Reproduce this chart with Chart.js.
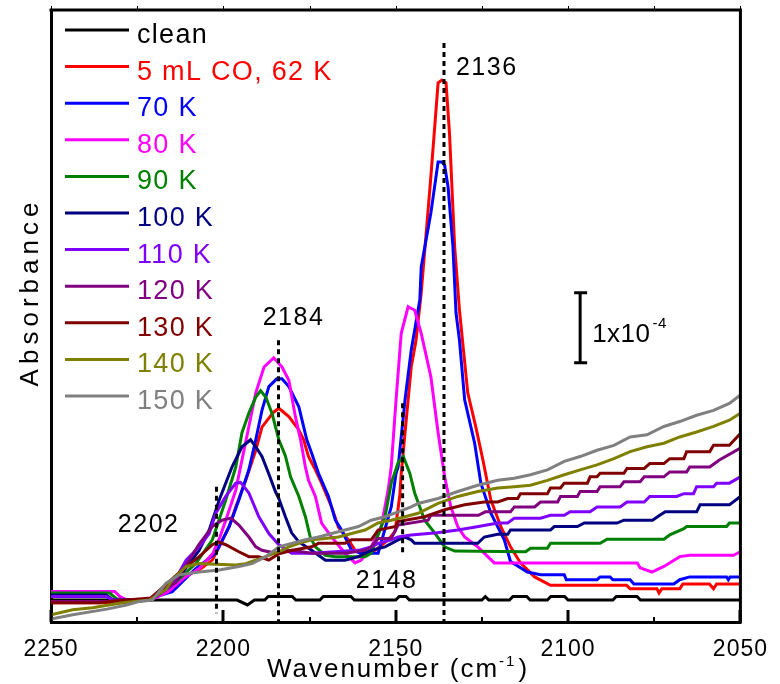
<!DOCTYPE html>
<html>
<head>
<meta charset="utf-8">
<script src="https://cdn.jsdelivr.net/npm/chart.js@4.4.1/dist/chart.umd.min.js"></script>
<style>
    html, body { margin: 0; padding: 0; background: #fff; }
</style>
</head>
<body>
<canvas id="chartIR" width="780" height="684"></canvas>
<script>
// series: [wavenumber (cm-1), absorbance (x 1e-4)]
var seriesNames = ["clean", "5 mL CO, 62 K", "70 K", "80 K", "90 K", "100 K", "110 K", "120 K", "130 K", "140 K", "150 K"];
var seriesColors = ["#000000", "#ff0000", "#0000ff", "#ff00ff", "#008000", "#000080", "#8000ff", "#800080", "#800000", "#808000", "#808080"];

var clean = [[2250,0],[2196,0],[2193,-0.07],[2191,0],[2188,0],[2187,0.05],[2180,0.05],[2179,0],[2172,0],[2171,0.05],[2163,0.05],[2162,0],[2150,0],[2149,0.05],[2147,0.05],[2146,0],[2125,0],[2124,0.05],[2123,0],[2117,0],[2116,0.05],[2112,0.05],[2111,0],[2106,0],[2105,0.05],[2101,0.05],[2100,0],[2087,0],[2086,0.05],[2080,0.05],[2079,0],[2050,0]];

var co62K = [[2250,-0.04],[2230,-0.04],[2224,-0.01],[2221,0.03],[2214,0.29],[2207,0.43],[2203.2,0.57],[2200.7,0.81],[2198.3,1.05],[2196.4,1.33],[2193.5,1.71],[2190.6,2.14],[2188.8,2.47],[2185.5,2.68],[2183.9,2.74],[2181,2.62],[2178.1,2.43],[2176.7,2.29],[2175.3,2.05],[2173.3,1.86],[2171.5,1.67],[2168.6,1.33],[2166.6,1.04],[2163.7,0.86],[2161.8,0.71],[2160,0.67],[2156,0.71],[2152.2,0.86],[2150.2,0.98],[2149.6,1.2],[2148.8,1.5],[2148.4,1.81],[2147.3,2.39],[2145.5,3.33],[2144.1,3.71],[2142.6,4.39],[2139.8,6.05],[2137.7,7.39],[2136.6,7.43],[2135.4,7.39],[2134.4,6.67],[2132.9,5.05],[2131.5,4.14],[2129.1,2.96],[2126.8,2.48],[2124.7,2.0],[2122.4,1.43],[2119.5,1.05],[2116.7,0.76],[2113.8,0.53],[2109.7,0.33],[2105.1,0.21],[2083,0.21],[2082,0.16],[2074.2,0.16],[2073.6,0.10],[2072.8,0.16],[2067.6,0.16],[2066.7,0.23],[2059,0.23],[2057.8,0.16],[2056.9,0.23],[2050,0.23]];

var k70 = [[2250,0.12],[2236,0.12],[2234,0.05],[2232,0],[2221,0],[2219.5,0.05],[2214.8,0.12],[2208,0.45],[2202.2,0.67],[2198.3,1.05],[2195.5,1.43],[2192.6,1.86],[2190.6,2.29],[2188.8,2.71],[2186.8,3.05],[2184.5,3.16],[2183,3.16],[2181,3.05],[2178.1,2.76],[2175.8,2.29],[2174.4,2.10],[2172.4,1.81],[2169.5,1.48],[2167.5,1.14],[2165.7,1.00],[2162.8,0.71],[2160,0.67],[2155.1,0.67],[2151.3,1.33],[2149.9,1.81],[2149.3,1.90],[2147.3,2.86],[2145.5,3.57],[2143,4.29],[2142.6,4.76],[2139.8,5.53],[2137.7,6.26],[2136.6,6.26],[2135.8,6.21],[2134.8,5.90],[2133.4,5.05],[2132.5,4.10],[2131.5,3.71],[2130,2.86],[2127.1,2.24],[2125.3,1.67],[2122.4,1.24],[2118.5,0.86],[2116.7,0.55],[2111.8,0.40],[2108,0.36],[2101.1,0.36],[2100.5,0.29],[2091.6,0.29],[2090.7,0.33],[2087.8,0.33],[2087,0.29],[2082,0.29],[2080.9,0.23],[2069.3,0.23],[2067.6,0.29],[2064.7,0.33],[2054,0.33],[2053.5,0.29],[2053,0.33],[2050,0.33]];

var k80 = [[2250,0.12],[2231.5,0.12],[2230,0.05],[2228,0],[2221,0],[2216,0.12],[2211,0.33],[2207,0.45],[2203,0.67],[2201,0.90],[2199.3,1.14],[2196.4,1.57],[2194.6,2.0],[2192.6,2.48],[2190.6,2.96],[2188.2,3.33],[2185.4,3.46],[2183,3.33],[2181,3.14],[2179.1,2.62],[2177.6,2.29],[2176.2,1.90],[2175.3,1.71],[2173.3,1.48],[2171.5,1.10],[2168.6,0.90],[2164.7,0.67],[2161.8,0.53],[2160,0.57],[2157.1,0.76],[2154.2,1.05],[2152.2,1.57],[2151.3,1.90],[2149.9,2.86],[2148.4,3.81],[2146.4,4.19],[2144.5,4.14],[2142.6,3.81],[2139.8,3.19],[2137.7,2.39],[2135.8,1.76],[2134,1.33],[2132,1.05],[2130,0.90],[2126.2,0.76],[2121.4,0.53],[2079.9,0.53],[2079.1,0.46],[2075.7,0.40],[2072.2,0.48],[2067.6,0.62],[2064.7,0.64],[2052,0.64],[2050,0.69]];

var k90 = [[2250,0.10],[2233,0.10],[2231,0.02],[2229,0],[2221,0],[2214,0.25],[2208,0.52],[2203.2,0.86],[2199.3,1.43],[2196.4,1.90],[2194.6,2.39],[2192.6,2.67],[2190.6,2.90],[2189.2,2.99],[2187.7,2.90],[2185.9,2.67],[2183.9,2.29],[2182,2.06],[2180.5,1.76],[2178.1,1.48],[2176.2,1.19],[2174.8,0.90],[2173.3,0.76],[2170.4,0.64],[2167.5,0.62],[2158.9,0.62],[2157.1,0.67],[2153.1,1.19],[2151.3,1.67],[2149.3,1.96],[2147.8,2.05],[2145.9,1.81],[2144.5,1.53],[2141.6,1.14],[2138.7,0.96],[2135.8,0.76],[2132.9,0.70],[2112.3,0.69],[2110.9,0.74],[2106,0.74],[2105.1,0.81],[2090.7,0.81],[2088.7,0.87],[2072.2,0.87],[2070.5,0.93],[2066.4,1.02],[2065.6,1.05],[2054,1.05],[2053.2,1.10],[2050,1.10]];

var k100 = [[2250,0.07],[2234,0.07],[2232,0],[2221,0],[2214,0.25],[2207,0.71],[2204.1,1.00],[2201.2,1.43],[2197.5,1.90],[2194.6,2.19],[2192.1,2.29],[2190.6,2.19],[2188.8,2.05],[2186.8,1.80],[2184.9,1.55],[2183.9,1.45],[2182,1.19],[2180.2,0.96],[2178.1,0.83],[2174.4,0.71],[2170.4,0.57],[2164.7,0.57],[2160.8,0.62],[2158.9,0.67],[2157.1,0.71],[2153.1,0.76],[2149.3,0.86],[2147.3,0.90],[2145.5,0.86],[2144.5,0.81],[2126.2,0.81],[2124.3,0.90],[2120.4,0.94],[2117.5,0.94],[2116.7,1.00],[2105.1,1.00],[2104,1.05],[2097.3,1.05],[2095.3,1.10],[2085.8,1.10],[2083.8,1.14],[2075.5,1.14],[2073.4,1.21],[2071.8,1.26],[2062.7,1.26],[2061.7,1.36],[2053.2,1.36],[2050,1.48]];

var k110 = [[2250,0.05],[2234,0.05],[2232,0],[2221,0],[2215,0.2],[2210.8,0.57],[2207,0.76],[2204.1,0.95],[2202.2,1.24],[2199.3,1.48],[2196.4,1.67],[2195,1.68],[2192.6,1.53],[2189.7,1.19],[2186.8,0.95],[2183.9,0.79],[2180.2,0.67],[2174.4,0.67],[2160.8,0.71],[2157.1,0.76],[2155.1,0.81],[2151.3,0.86],[2149.3,0.90],[2145.5,0.93],[2138,0.96],[2132,1.0],[2126,1.05],[2120.4,1.10],[2117.5,1.10],[2115.6,1.17],[2108,1.17],[2105.1,1.21],[2101.1,1.21],[2099.4,1.26],[2093.6,1.26],[2091.6,1.33],[2084.9,1.33],[2082.9,1.40],[2077.9,1.40],[2076.3,1.48],[2068.5,1.48],[2066.4,1.52],[2063.6,1.52],[2062.7,1.62],[2057.8,1.62],[2056.9,1.67],[2053.2,1.67],[2050,1.76]];

var k120 = [[2250,-0.02],[2234,-0.02],[2230,0],[2221,0],[2214,0.25],[2207,0.80],[2203.2,1.05],[2200.4,1.14],[2197.8,1.17],[2195.5,1.07],[2192.6,0.90],[2190.6,0.76],[2188.8,0.71],[2184.9,0.67],[2180.2,0.71],[2174.4,0.67],[2164.7,0.67],[2159,0.71],[2157.1,0.76],[2155.1,0.88],[2151.3,0.88],[2149.3,1.07],[2140.6,1.14],[2139.8,1.21],[2126,1.21],[2124,1.26],[2116.7,1.26],[2115.6,1.33],[2109.7,1.33],[2108,1.40],[2103,1.40],[2102.2,1.48],[2097.3,1.48],[2096.5,1.55],[2091.6,1.55],[2090.7,1.62],[2084.9,1.62],[2083.8,1.69],[2079.1,1.69],[2077.9,1.76],[2072.2,1.76],[2070.5,1.83],[2065.6,1.83],[2064.7,1.90],[2058.9,1.90],[2056.1,2.0],[2050,2.17]];

var k130 = [[2250,-0.04],[2236,-0.04],[2228,0],[2221,0.03],[2211.9,0.43],[2207,0.62],[2203.2,0.79],[2201.5,0.83],[2199.3,0.79],[2195.5,0.69],[2192.6,0.62],[2189.7,0.62],[2186.8,0.57],[2183.9,0.66],[2180,0.71],[2174.4,0.76],[2172.4,0.81],[2164.7,0.81],[2162.8,0.86],[2157.1,0.86],[2155.1,1.00],[2150,1.05],[2149.3,1.12],[2141.6,1.19],[2135.8,1.29],[2130,1.36],[2124.3,1.40],[2120.4,1.40],[2117.5,1.45],[2114.6,1.45],[2113.8,1.52],[2106,1.52],[2105.1,1.60],[2102.2,1.60],[2101.1,1.67],[2094.4,1.67],[2093.6,1.76],[2091.6,1.76],[2090.7,1.81],[2083.8,1.81],[2082.9,1.88],[2077.9,1.88],[2076.3,1.95],[2072.2,1.95],[2070.5,2.02],[2066.4,2.02],[2065.6,2.12],[2058.9,2.12],[2057.8,2.21],[2053.2,2.21],[2050,2.38]];

var k140 = [[2250,-0.21],[2243.7,-0.14],[2238,-0.11],[2229.2,-0.04],[2221.4,0],[2216.6,0.15],[2214.8,0.29],[2210.8,0.48],[2207,0.52],[2196.4,0.50],[2193.5,0.52],[2191.7,0.55],[2187.7,0.62],[2183,0.71],[2181,0.76],[2178.1,0.81],[2174.4,0.86],[2170.4,0.88],[2166.6,0.90],[2162.8,0.95],[2158.9,1.0],[2155.1,1.10],[2151.3,1.14],[2147.3,1.19],[2143.5,1.24],[2137.7,1.38],[2132,1.48],[2126.2,1.55],[2120.4,1.60],[2115.6,1.62],[2110.9,1.64],[2106,1.71],[2101.1,1.79],[2096.5,1.86],[2091.6,1.93],[2086.7,2.02],[2082,2.12],[2077.1,2.19],[2072.2,2.24],[2067.6,2.33],[2062.7,2.40],[2057.8,2.48],[2053.2,2.57],[2050,2.67]];

var k150 = [[2250,-0.27],[2243.7,-0.21],[2233.8,-0.13],[2228.1,-0.07],[2224.3,-0.02],[2220.6,0],[2216.6,0.24],[2212.8,0.36],[2207,0.40],[2201.2,0.43],[2195.5,0.48],[2191.7,0.52],[2187.7,0.62],[2183.9,0.76],[2180.2,0.81],[2176.2,0.86],[2172.4,0.90],[2168.6,0.95],[2164.7,1.0],[2160.8,1.05],[2157.1,1.14],[2153.1,1.19],[2149.3,1.26],[2145.5,1.33],[2143.5,1.38],[2137.7,1.45],[2132,1.55],[2126.2,1.64],[2120.4,1.71],[2115.6,1.74],[2110.9,1.79],[2106,1.86],[2101.1,1.98],[2096.5,2.05],[2091.6,2.14],[2086.7,2.21],[2082,2.33],[2077.1,2.36],[2072.2,2.48],[2067.6,2.55],[2062.7,2.64],[2057.8,2.71],[2053.2,2.81],[2050,2.93]];

var allSeries = [clean, co62K, k70, k80, k90, k100, k110, k120, k130, k140, k150];

// marked bands and the dashed guide lines (absorbance range of each line)
var peakWavenumbers = [2202, 2184, 2148, 2136];
var peakLabels = ["2202", "2184", "2148", "2136"];
var peakLineTop = [1.62, 3.71, 2.81, 7.96];
var peakLineBottom = [-0.19, -0.31, 0.67, -0.31];

// scale bar: 1 x 10^-4
var scaleBarAt = 2096.5;
var scaleBarFrom = 3.39;
var scaleBarTo = 4.39;

var fontFamily = "'Liberation Sans', Arial, Helvetica, sans-serif";
Chart.defaults.font.family = fontFamily;

var datasets = [];
for (let i = 0; i < allSeries.length; i++) {
    datasets.push({
        label: seriesNames[i],
        data: allSeries[i].map(function(p) {
            return { x: p[0], y: p[1] };
        }),
        borderColor: seriesColors[i],
        backgroundColor: seriesColors[i],
        borderWidth: 3,
        pointRadius: 0,
        tension: 0,
        fill: false,
        order: allSeries.length - i,
    });
}

function line(ctx, x1, y1, x2, y2) {
    ctx.beginPath();
    ctx.moveTo(x1, y1);
    ctx.lineTo(x2, y2);
    ctx.stroke();
}

var decorations = {
    id: "decorations",
    beforeDraw: function(chart) {
        chart.ctx.letterSpacing = "1px";
    },
    afterDraw: function(chart) {
        var ctx = chart.ctx;
        var area = chart.chartArea;
        var xs = chart.scales.x;
        var ys = chart.scales.y;
        ctx.save();
        ctx.strokeStyle = "#000";
        ctx.fillStyle = "#000";

        // top and right frame
        ctx.lineWidth = 3;
        ctx.beginPath();
        ctx.moveTo(area.left - 1.5, area.top);
        ctx.lineTo(area.right, area.top);
        ctx.lineTo(area.right, area.bottom + 1.5);
        ctx.stroke();

        // ticks: inward at the bottom, tiny ones above the top
        for (var w = 2050; w <= 2250; w += 25) {
            var px = Math.round(xs.getPixelForValue(w));
            var major = w % 50 === 0;
            ctx.lineWidth = major ? 3 : 2;
            line(ctx, px, area.bottom, px, area.bottom - (major ? 12 : 5));
            ctx.lineWidth = 1;
            line(ctx, px + 0.5, area.top - 1, px + 0.5, area.top - 4);
        }

        // dashed guides and their labels
        var labelPos = [
            { align: "right", dx: -37, y: 532 },
            { align: "center", dx: 15, y: 325 },
            { align: "center", dx: -16, y: 588 },
            { align: "left", dx: 12, y: 75 },
        ];
        ctx.lineWidth = 3;
        ctx.setLineDash([5, 4]);
        for (let i = 0; i < peakWavenumbers.length; i++) {
            var gx = xs.getPixelForValue(peakWavenumbers[i]);
            line(ctx, gx, ys.getPixelForValue(peakLineTop[i]), gx, ys.getPixelForValue(peakLineBottom[i]));
        }
        ctx.setLineDash([]);
        ctx.font = "25px " + fontFamily;
        ctx.letterSpacing = "1.5px";
        ctx.textBaseline = "alphabetic";
        for (let i = 0; i < peakWavenumbers.length; i++) {
            var lx = xs.getPixelForValue(peakWavenumbers[i]);
            ctx.textAlign = labelPos[i].align;
            ctx.fillText(peakLabels[i], lx + labelPos[i].dx, labelPos[i].y);
        }

        // scale bar
        var bx = xs.getPixelForValue(scaleBarAt);
        var bTop = ys.getPixelForValue(scaleBarTo);
        var bBot = ys.getPixelForValue(scaleBarFrom);
        ctx.lineWidth = 3;
        line(ctx, bx, bTop, bx, bBot);
        line(ctx, bx - 6, bTop, bx + 7, bTop);
        line(ctx, bx - 6, bBot, bx + 7, bBot);
        var mid = (bTop + bBot) / 2;
        ctx.textAlign = "left";
        ctx.font = "26px " + fontFamily;
        ctx.letterSpacing = "0.5px";
        ctx.fillText("1x10", bx + 12, mid + 14);
        var tw = ctx.measureText("1x10").width;
        ctx.font = "15px " + fontFamily;
        ctx.fillText("-4", bx + 14 + tw, mid);

        // legend
        var ds = chart.data.datasets;
        ctx.font = "27px " + fontFamily;
        ctx.letterSpacing = "1.3px";
        for (let i = 0; i < ds.length; i++) {
            var ly = 30 + i * 36.6;
            ctx.strokeStyle = ds[i].borderColor;
            ctx.fillStyle = ds[i].borderColor;
            ctx.lineWidth = 3;
            line(ctx, 65, ly, 129, ly);
            ctx.fillText(ds[i].label, 137, ly + 13);
        }

        // axis titles
        ctx.fillStyle = "#000";
        ctx.font = "26px " + fontFamily;
        ctx.letterSpacing = "2px";
        var t1 = "Wavenumber (cm";
        var w1 = ctx.measureText(t1).width;
        ctx.font = "15px " + fontFamily;
        var w2 = ctx.measureText("-1").width;
        ctx.font = "26px " + fontFamily;
        var w3 = ctx.measureText(")").width;
        var startX = 397 - (w1 + w2 + w3) / 2;
        ctx.fillText(t1, startX, 677);
        ctx.font = "15px " + fontFamily;
        ctx.fillText("-1", startX + w1, 666);
        ctx.font = "26px " + fontFamily;
        ctx.fillText(")", startX + w1 + w2 + 2, 677);

        ctx.translate(38, 292);
        ctx.rotate(-Math.PI / 2);
        ctx.textAlign = "center";
        ctx.letterSpacing = "5px";
        ctx.fillText("Absorbance", 0, 0);
        ctx.restore();
    },
};

var ctx = document.getElementById("chartIR");
var irChart = new Chart(ctx, {
    type: "line",
    data: { datasets: datasets },
    options: {
        responsive: false,
        animation: false,
        events: [],
        layout: {
            padding: { left: 0, right: 36, top: 10, bottom: 0 },
        },
        plugins: {
            legend: { display: false },
            tooltip: { enabled: false },
        },
        scales: {
            x: {
                type: "linear",
                reverse: true,
                min: 2050,
                max: 2250,
                grid: { display: false, drawTicks: false },
                border: { display: true, width: 3, color: "#000" },
                ticks: {
                    stepSize: 50,
                    color: "#000",
                    font: { size: 23 },
                    padding: 14,
                    maxRotation: 0,
                    autoSkip: false,
                    callback: function(v) {
                        return String(v);
                    },
                },
                afterFit: function(scale) {
                    scale.height = 62;
                },
            },
            y: {
                type: "linear",
                min: -0.314,
                max: 8.43,
                grid: { display: false, drawTicks: false },
                border: { display: true, width: 3, color: "#000" },
                ticks: { display: false },
                afterFit: function(scale) {
                    scale.width = 51;
                },
            },
        },
    },
    plugins: [decorations],
});
</script>
</body>
</html>
